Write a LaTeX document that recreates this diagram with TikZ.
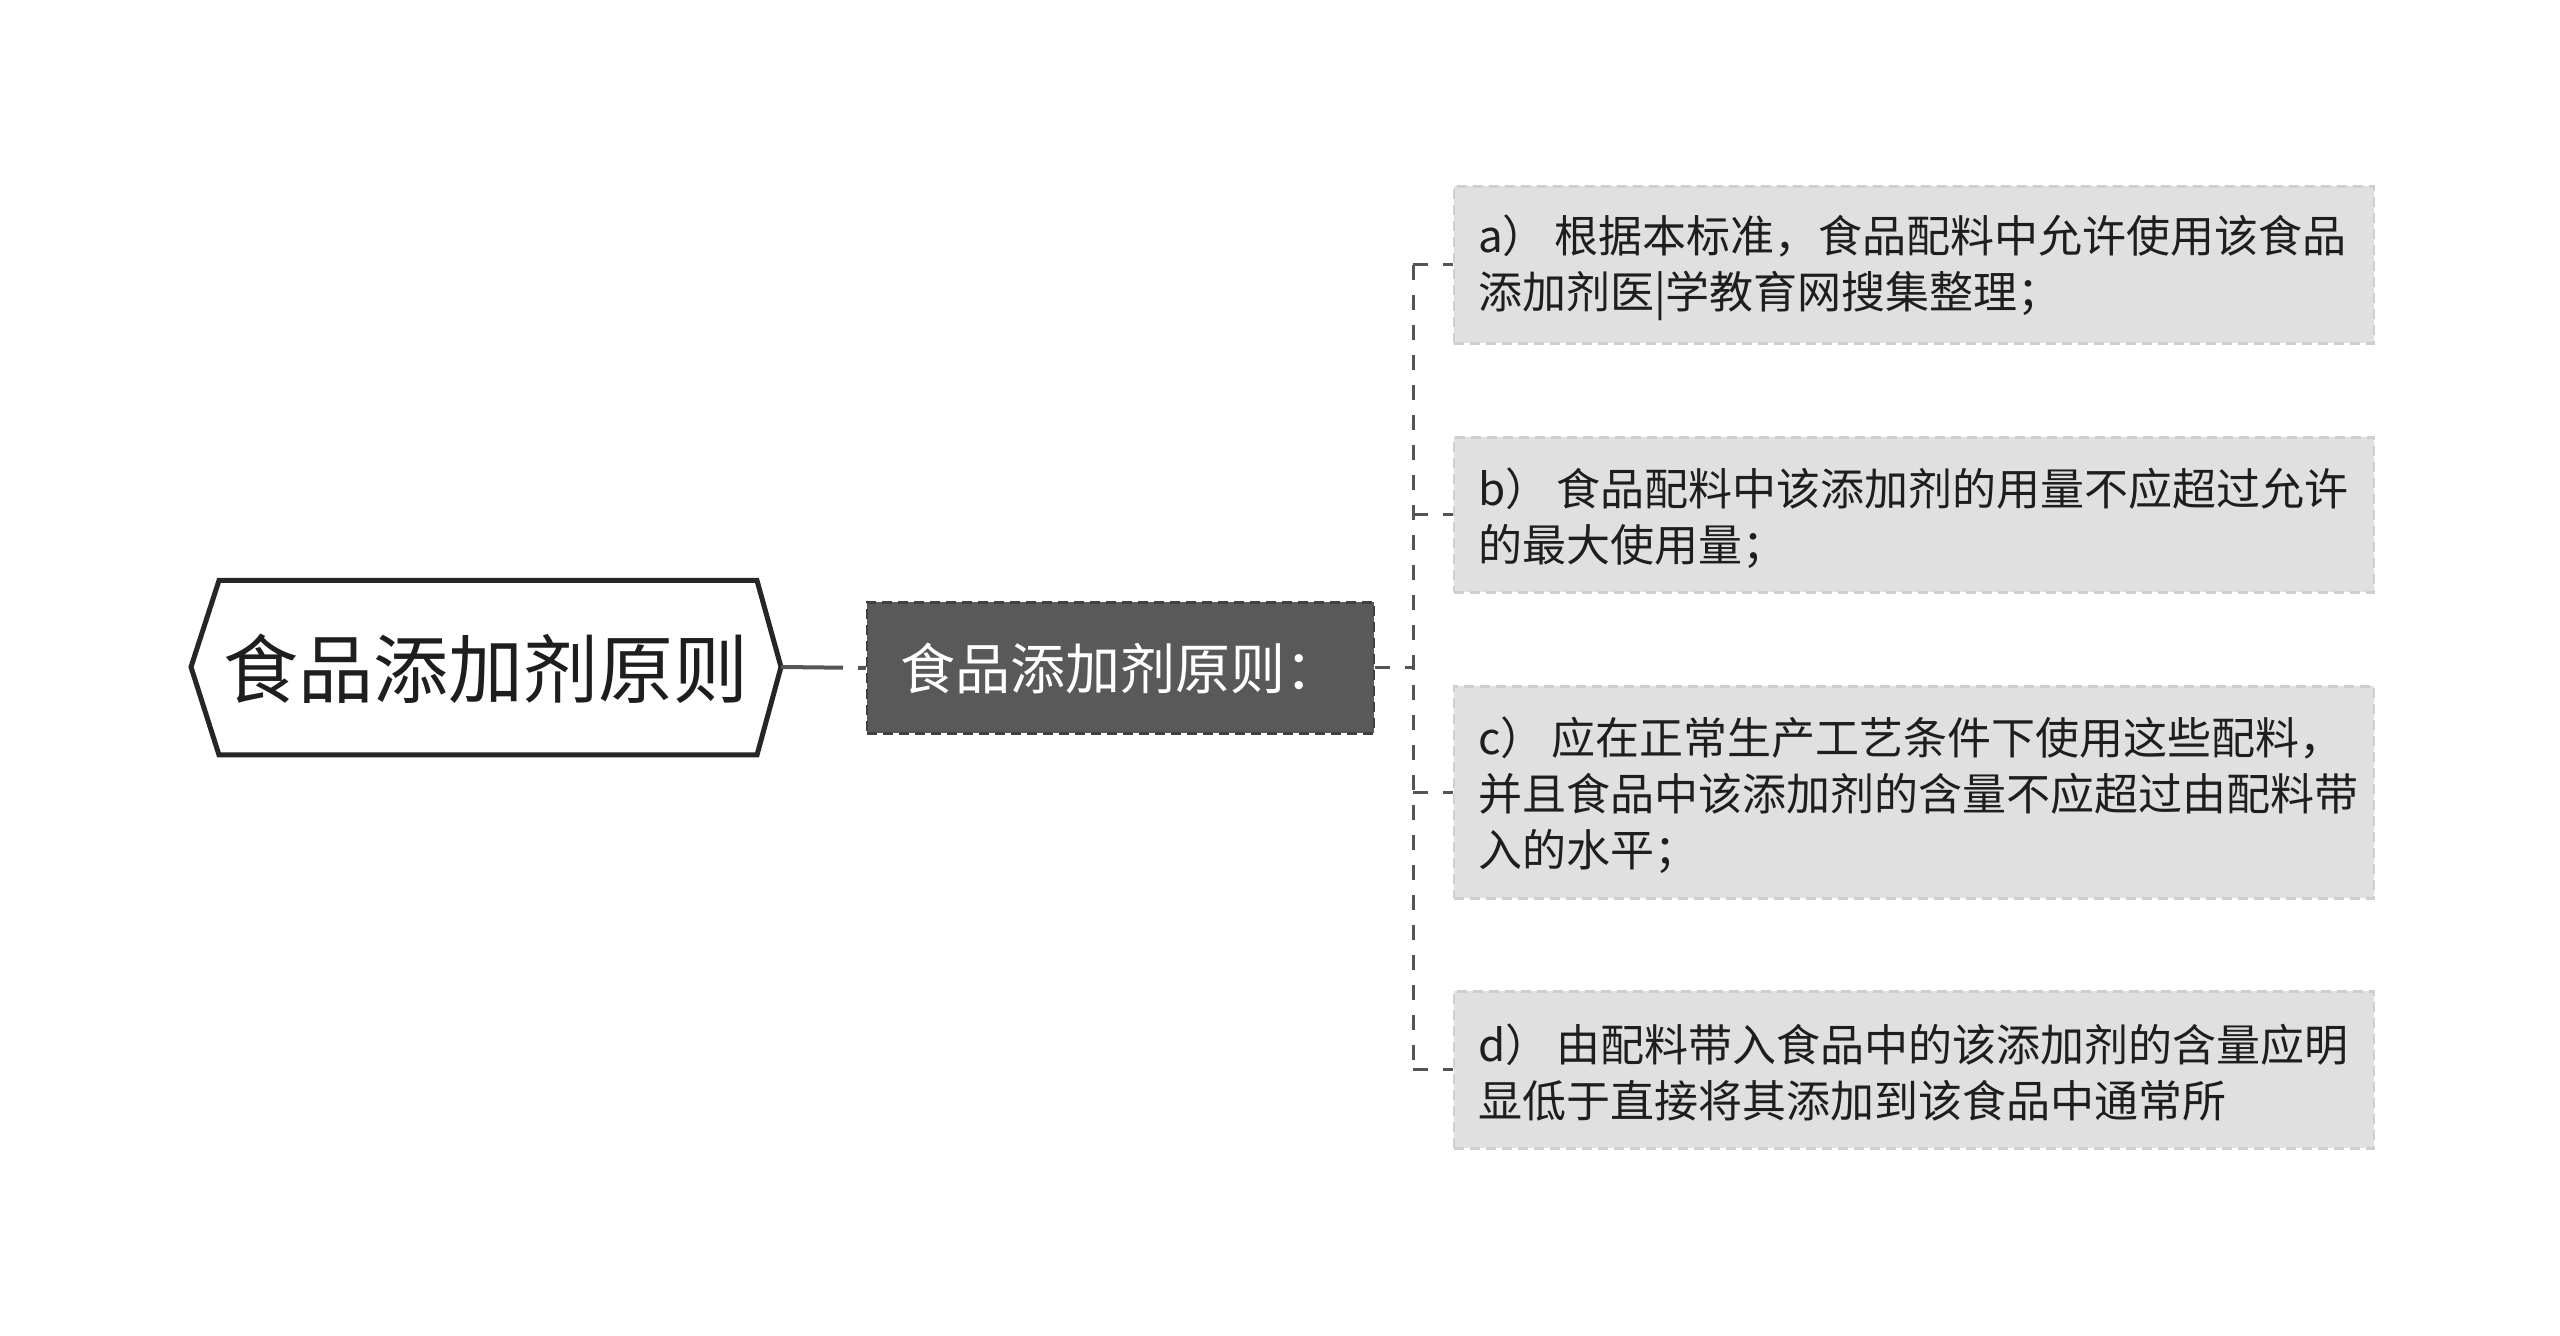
\documentclass[tikz,border=0pt]{standalone}
\usepackage{fontspec}
\setmainfont{Noto Sans CJK SC}
\definecolor{linec}{HTML}{555555}
\definecolor{maingray}{HTML}{595959}
\definecolor{leafgray}{HTML}{E0E0E0}
\definecolor{leafborder}{HTML}{CFCFCF}
\definecolor{txt}{HTML}{1E1E1E}
\begin{document}
\begin{tikzpicture}[x=1pt,y=1pt,
  conn/.style={draw=linec,line width=3pt,dash pattern=on 15pt off 15pt},
  leafbox/.style={fill=leafgray,draw=leafborder,line width=2.5pt,dash pattern=on 10pt off 6pt,
    minimum width=920pt},
  leaftext/.style={text width=872pt,inner sep=0pt,align=left,text=txt,
    font=\fontsize{44pt}{56pt}\selectfont},
  mainbox/.style={fill=maingray,draw=black!75,line width=2.5pt,dash pattern=on 10pt off 6pt,
    minimum width=507pt,minimum height=131pt,text=white,font=\fontsize{55pt}{60pt}\selectfont}]
\useasboundingbox (0,0) rectangle (2560,1336);
% root hexagon
\coordinate (rootL) at (191,669);
\coordinate (rootR) at (781,669);
\draw[line width=5pt,draw=black!85,fill=white,line join=miter]
  (rootL) -- (219,755.5) -- (757,755.5) -- (rootR) -- (757,581) -- (219,581) -- cycle;
\node[text=txt,font=\fontsize{75pt}{80pt}\selectfont] (root) at (486,667) {食品添加剂原则};
% main node
\node[mainbox] (main) at (1120.5,668) {食品添加剂原则：};
\draw[draw=linec,line width=4pt,dash pattern=on 62pt off 15pt] (rootR) -- (main.west);
% leaves
\node[leafbox,minimum height=157pt] (a) at (1914,1071) {};
\node[leafbox,minimum height=155pt] (b) at (1914,821) {};
\node[leafbox,minimum height=212pt] (c) at (1914,543.5) {};
\node[leafbox,minimum height=157pt] (d) at (1914,266) {};
\node[leaftext] (ta) at ([yshift=-3pt]a.center) {a）\,根据本标准，食品配料中允许使用该食品\\添加剂医|学教育网搜集整理；};
\node[leaftext] (tb) at ([yshift=-3pt]b.center) {b）\,食品配料中该添加剂的用量不应超过允许\\的最大使用量；};
\node[leaftext] (tc) at ([yshift=-3pt]c.center) {c）\,应在正常生产工艺条件下使用这些配料，\\并且食品中该添加剂的含量不应超过由配料带\\入的水平；};
\node[leaftext] (td) at ([yshift=-3pt]d.center) {d）\,由配料带入食品中的该添加剂的含量应明\\显低于直接将其添加到该食品中通常所};
% connectors
\coordinate (ja) at (1413,1071);
\coordinate (jb) at (1413,821);
\coordinate (jm) at (1413,668);
\coordinate (jc) at (1413,543.5);
\coordinate (jd) at (1413,266);
\draw[conn] (main.east) -- (jm);
\draw[conn] (ja) -- (jd);
\draw[conn] (ja) -- (a.west);
\draw[conn] (jb) -- (b.west);
\draw[conn] (jc) -- (c.west);
\draw[conn] (jd) -- (d.west);
\end{tikzpicture}
\end{document}
